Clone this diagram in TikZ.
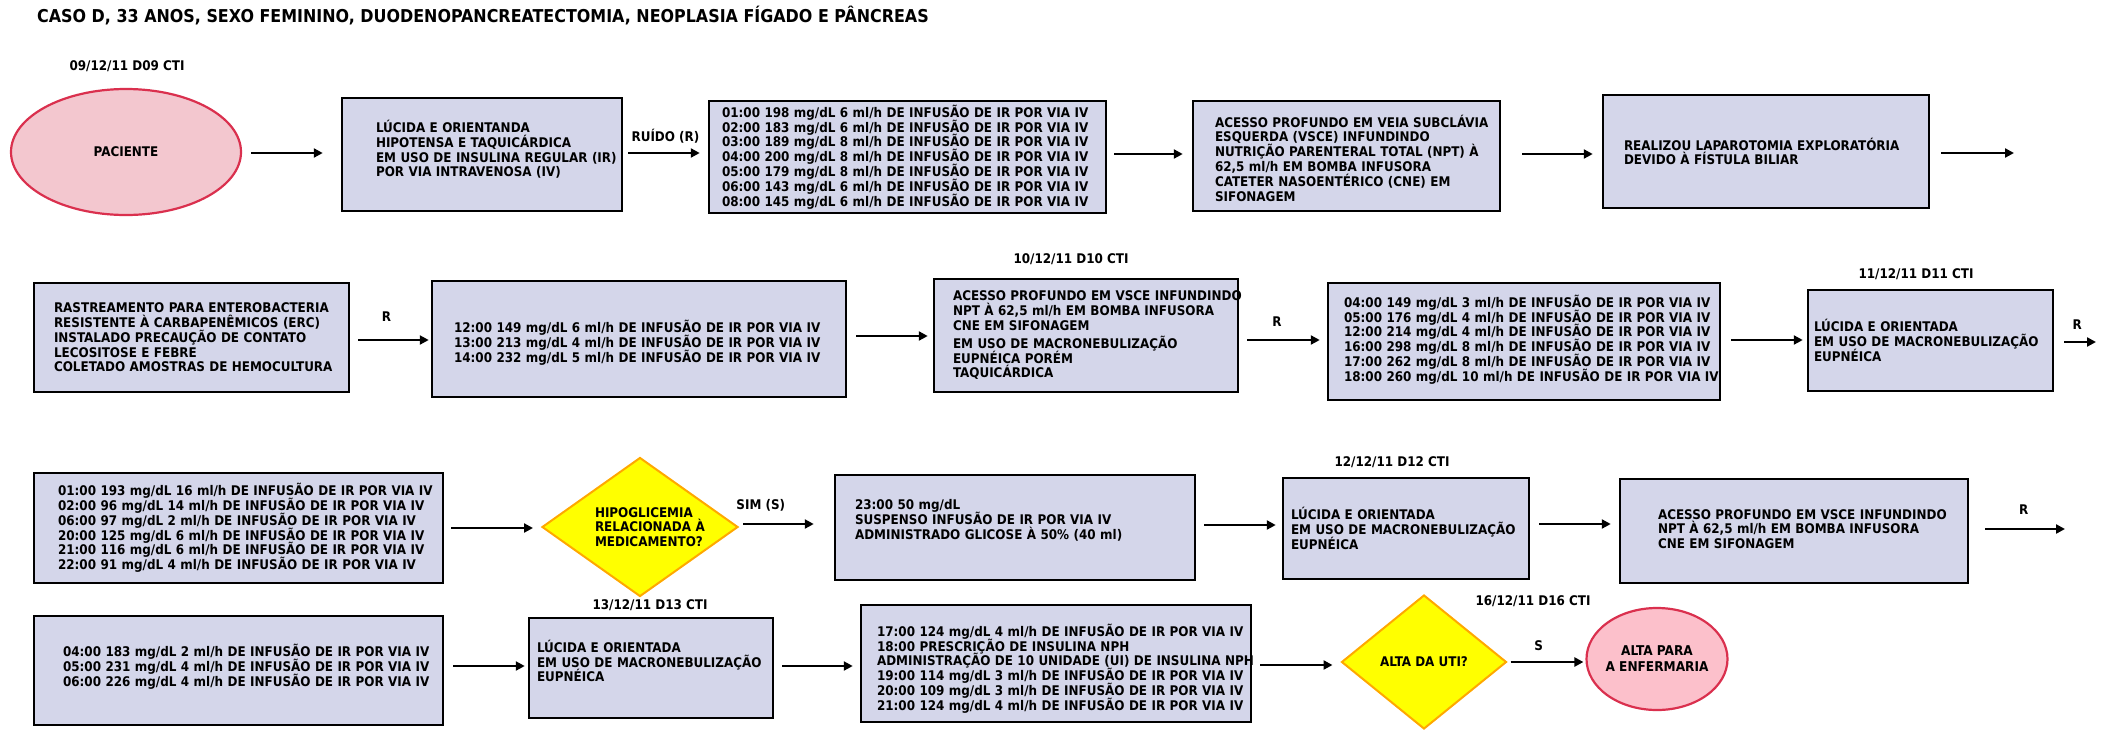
\documentclass[tikz,border=0pt]{standalone}
\usepackage{fontspec}
\newfontfamily\dvc{DejaVu Sans Condensed}
\usetikzlibrary{arrows.meta,shapes.geometric}
\definecolor{boxfill}{RGB}{212,214,234}
\definecolor{startfill}{RGB}{243,199,207}
\definecolor{endfill}{RGB}{252,192,203}
\definecolor{rimred}{RGB}{218,48,78}
\definecolor{decfill}{RGB}{255,255,0}
\definecolor{decrim}{RGB}{255,168,0}
% box text: one row per \\, never wrapped, fixed line pitch;
% the optional kern lifts (positive) or lowers (negative) the block by half its value
\newcommand\boxlines[2][0pt]{\rightskip=-300pt plus 1fil\relax
  \lineskiplimit=-100pt\relax\lineskip=0pt\relax\hyphenpenalty=10000\relax #2\par\kern#1\relax}
\tikzset{
  txt/.style={font=\dvc\bfseries\fontsize{13.3}{14.8}\selectfont},
  box/.style={txt, draw=black, line width=2.5pt, fill=boxfill, align=left, inner ysep=0pt},
  term/.style={txt, ellipse, draw=rimred, line width=2.2pt, align=center, inner sep=0pt},
  decision/.style={txt, diamond, draw=decrim, fill=decfill, line width=2pt, align=left, inner sep=0pt},
  arr/.style={line width=2.5pt, -{Triangle[length=9pt,width=9pt]}},
  lbl/.style={txt, inner sep=0pt},
  datelbl/.style={txt, inner sep=0pt},
}
\begin{document}
\begin{tikzpicture}[x=1pt,y=-1pt]
\useasboundingbox (0,0) rectangle (2105,729);

\node[anchor=west, font=\dvc\bfseries\fontsize{17.7}{20}\selectfont, inner sep=0pt] (title) at (37,16)
  {CASO D, 33 ANOS, SEXO FEMININO, DUODENOPANCREATECTOMIA, NEOPLASIA FÍGADO E PÂNCREAS};

% dates
\node[datelbl] (d09) at (127,66) {09/12/11 D09 CTI};
\node[datelbl] (d10) at (1071,259) {10/12/11 D10 CTI};
\node[datelbl] (d11) at (1916,274) {11/12/11 D11 CTI};
\node[datelbl] (d12) at (1392,462) {12/12/11 D12 CTI};
\node[datelbl] (d13) at (650,605) {13/12/11 D13 CTI};
\node[datelbl] (d16) at (1533,601) {16/12/11 D16 CTI};

% row 1
\node[term, fill=startfill, minimum width=230pt, minimum height=126pt] (p) at (126,152) {PACIENTE};
\node[box, minimum height=113pt, text width=212pt, inner xsep=34pt] (b2) at (482,154.5)
  {\boxlines[10pt]{LÚCIDA E ORIENTANDA\\HIPOTENSA E TAQUICÁRDICA\\EM USO DE INSULINA REGULAR (IR)\\POR VIA INTRAVENOSA (IV)}};
\node[box, minimum height=112pt, text width=371pt, inner xsep=13pt] (b3) at (907.5,157)
  {\boxlines{01:00 198 mg/dL 6 ml/h DE INFUSÃO DE IR POR VIA IV\\
   02:00 183 mg/dL 6 ml/h DE INFUSÃO DE IR POR VIA IV\\
   03:00 189 mg/dL 8 ml/h DE INFUSÃO DE IR POR VIA IV\\
   04:00 200 mg/dL 8 ml/h DE INFUSÃO DE IR POR VIA IV\\
   05:00 179 mg/dL 8 ml/h DE INFUSÃO DE IR POR VIA IV\\
   06:00 143 mg/dL 6 ml/h DE INFUSÃO DE IR POR VIA IV\\
   08:00 145 mg/dL 6 ml/h DE INFUSÃO DE IR POR VIA IV}};
\node[box, minimum height=110pt, text width=263pt, inner xsep=22pt] (b4) at (1346.5,156)
  {\boxlines[-4pt]{ACESSO PROFUNDO EM VEIA SUBCLÁVIA\\ESQUERDA (VSCE) INFUNDINDO\\NUTRIÇÃO PARENTERAL TOTAL (NPT) À\\62,5 ml/h EM BOMBA INFUSORA\\CATETER NASOENTÉRICO (CNE) EM\\SIFONAGEM}};
\node[box, minimum height=113pt, text width=284pt, inner xsep=21pt] (b5) at (1766,151.5)
  {\boxlines{REALIZOU LAPAROTOMIA EXPLORATÓRIA\\DEVIDO À FÍSTULA BILIAR}};
\coordinate (e1) at (2014,153);

% row 2
\node[box, minimum height=109pt, text width=275pt, inner xsep=20pt] (b6) at (191.5,337.5)
  {\boxlines{RASTREAMENTO PARA ENTEROBACTERIA\\RESISTENTE À CARBAPENÊMICOS (ERC)\\INSTALADO PRECAUÇÃO DE CONTATO\\LECOSITOSE E FEBRE\\COLETADO AMOSTRAS DE HEMOCULTURA}};
\node[box, minimum height=116pt, text width=370pt, inner xsep=22pt] (b7) at (639,339)
  {\boxlines[-8pt]{12:00 149 mg/dL 6 ml/h DE INFUSÃO DE IR POR VIA IV\\
   13:00 213 mg/dL 4 ml/h DE INFUSÃO DE IR POR VIA IV\\
   14:00 232 mg/dL 5 ml/h DE INFUSÃO DE IR POR VIA IV}};
\node[box, minimum height=113pt, text width=266pt, inner xsep=19pt] (b8) at (1086,335.5)
  {\boxlines{ACESSO PROFUNDO EM VSCE INFUNDINDO\\NPT À 62,5 ml/h EM BOMBA INFUSORA\\CNE EM SIFONAGEM\\[3pt]EM USO DE MACRONEBULIZAÇÃO\\EUPNÉICA PORÉM\\TAQUICÁRDICA}};
\node[box, minimum height=117pt, text width=360pt, inner xsep=16pt] (b9) at (1524,341.5)
  {\boxlines[4pt]{04:00 149 mg/dL 3 ml/h DE INFUSÃO DE IR POR VIA IV\\
   05:00 176 mg/dL 4 ml/h DE INFUSÃO DE IR POR VIA IV\\
   12:00 214 mg/dL 4 ml/h DE INFUSÃO DE IR POR VIA IV\\
   16:00 298 mg/dL 8 ml/h DE INFUSÃO DE IR POR VIA IV\\
   17:00 262 mg/dL 8 ml/h DE INFUSÃO DE IR POR VIA IV\\
   18:00 260 mg/dL 10 ml/h DE INFUSÃO DE IR POR VIA IV}};
\node[box, minimum height=101pt, text width=233pt, inner xsep=6pt] (b10) at (1930.5,340.5)
  {\boxlines{LÚCIDA E ORIENTADA\\EM USO DE MACRONEBULIZAÇÃO\\EUPNÉICA}};
\coordinate (e2) at (2096,342);

% row 3
\node[box, minimum height=110pt, text width=361pt, inner xsep=24pt] (b11) at (238.5,528)
  {\boxlines{01:00 193 mg/dL 16 ml/h DE INFUSÃO DE IR POR VIA IV\\
   02:00 96 mg/dL 14 ml/h DE INFUSÃO DE IR POR VIA IV\\
   06:00 97 mg/dL 2 ml/h DE INFUSÃO DE IR POR VIA IV\\
   20:00 125 mg/dL 6 ml/h DE INFUSÃO DE IR POR VIA IV\\
   21:00 116 mg/dL 6 ml/h DE INFUSÃO DE IR POR VIA IV\\
   22:00 91 mg/dL 4 ml/h DE INFUSÃO DE IR POR VIA IV}};
\node[decision, text width=90pt, minimum width=196pt, minimum height=139pt] (q1) at (640,527)
  {\boxlines{HIPOGLICEMIA\\RELACIONADA À\\MEDICAMENTO?}};
\node[box, minimum height=105pt, text width=320pt, inner xsep=20pt] (b13) at (1015,527.5)
  {\boxlines[14pt]{23:00 50 mg/dL\\SUSPENSO INFUSÃO DE IR POR VIA IV\\ADMINISTRADO GLICOSE À 50\% (40 ml)}};
\node[box, minimum height=101pt, text width=230pt, inner xsep=8pt] (b14) at (1406,528.5)
  {\boxlines{LÚCIDA E ORIENTADA\\EM USO DE MACRONEBULIZAÇÃO\\EUPNÉICA}};
\node[box, minimum height=104pt, text width=272pt, inner xsep=38pt] (b15) at (1794,531)
  {\boxlines[4pt]{ACESSO PROFUNDO EM VSCE INFUNDINDO\\NPT À 62,5 ml/h EM BOMBA INFUSORA\\CNE EM SIFONAGEM}};
\coordinate (e3) at (2065,529);

% row 4
\node[box, minimum height=109pt, text width=351pt, inner xsep=29pt] (b16) at (238.5,670.5)
  {\boxlines[8pt]{04:00 183 mg/dL 2 ml/h DE INFUSÃO DE IR POR VIA IV\\
   05:00 231 mg/dL 4 ml/h DE INFUSÃO DE IR POR VIA IV\\
   06:00 226 mg/dL 4 ml/h DE INFUSÃO DE IR POR VIA IV}};
\node[box, minimum height=100pt, text width=228pt, inner xsep=8pt] (b17) at (651,668)
  {\boxlines[14pt]{LÚCIDA E ORIENTADA\\EM USO DE MACRONEBULIZAÇÃO\\EUPNÉICA}};
\node[box, minimum height=117pt, text width=358pt, inner xsep=16pt] (b18) at (1056,663.5)
  {\boxlines[-10pt]{17:00 124 mg/dL 4 ml/h DE INFUSÃO DE IR POR VIA IV\\
   18:00 PRESCRIÇÃO DE INSULINA NPH\\
   ADMINISTRAÇÃO DE 10 UNIDADE (UI) DE INSULINA NPH\\
   19:00 114 mg/dL 3 ml/h DE INFUSÃO DE IR POR VIA IV\\
   20:00 109 mg/dL 3 ml/h DE INFUSÃO DE IR POR VIA IV\\
   21:00 124 mg/dL 4 ml/h DE INFUSÃO DE IR POR VIA IV}};
\node[decision, align=center, minimum width=165pt, minimum height=134pt] (q2) at (1424,662) {ALTA DA UTI?};
\node[term, fill=endfill, font=\dvc\bfseries\fontsize{13.5}{16}\selectfont, inner sep=-8pt,
      minimum width=141pt, minimum height=102pt] (fim) at (1657,659) {ALTA PARA\\A ENFERMARIA};

% connectors
\draw[arr, shorten <=9pt, shorten >=18pt] (p.east |- 0,153) -- (b2.west |- 0,153);
\draw[arr, shorten <=5pt, shorten >=8pt] (b2.east |- 0,153) -- (b3.west |- 0,153)
  node[lbl, pos=0.5, yshift=17pt] {RUÍDO (R)};
\draw[arr, shorten <=7pt, shorten >=9pt] (b3.east |- 0,154) -- (b4.west |- 0,154);
\draw[arr, shorten <=21pt, shorten >=9pt] (b4.east |- 0,154) -- (b5.west |- 0,154);
\draw[arr, shorten <=11pt] (b5.east |- e1) -- (e1);

\draw[arr, shorten <=8pt, shorten >=2pt] (b6.east |- 0,340) -- (b7.west |- 0,340)
  node[lbl, pos=0.45, yshift=23pt] {R};
\draw[arr, shorten <=9pt, shorten >=5pt] (b7.east |- 0,336) -- (b8.west |- 0,336);
\draw[arr, shorten <=8pt, shorten >=7pt] (b8.east |- 0,340) -- (b9.west |- 0,340)
  node[lbl, pos=0.43, yshift=18pt] {R};
\draw[arr, shorten <=10pt, shorten >=4pt] (b9.east |- 0,340) -- (b10.west |- 0,340);
\draw[arr, shorten <=10pt] (b10.east |- e2) -- (e2)
  node[lbl, pos=0.55, yshift=17pt] {R};

\draw[arr, shorten <=7pt, shorten >=8pt] (b11.east |- 0,528) -- (q1.west |- 0,528);
\draw[arr, shorten <=4pt, shorten >=20pt] (q1.east |- 0,524) -- (b13.west |- 0,524)
  node[lbl, pos=0.23, yshift=19pt] {SIM (S)};
\draw[arr, shorten <=8pt, shorten >=6pt] (b13.east |- 0,525) -- (b14.west |- 0,525);
\draw[arr, shorten <=9pt, shorten >=8pt] (b14.east |- 0,524) -- (b15.west |- 0,524);
\draw[arr, shorten <=16pt] (b15.east |- e3) -- (e3)
  node[lbl, pos=0.57, yshift=19pt] {R};

\draw[arr, shorten <=9pt, shorten >=3pt] (b16.east |- 0,666) -- (b17.west |- 0,666);
\draw[arr, shorten <=8pt, shorten >=7pt] (b17.east |- 0,666) -- (b18.west |- 0,666);
\draw[arr, shorten <=8pt, shorten >=8pt] (b18.east |- 0,665) -- (q2.west |- 0,665);
\draw[arr, shorten <=3pt, shorten >=2pt] (q2.east |- 0,662) -- (fim.west |- 0,662)
  node[lbl, pos=0.4, yshift=16pt] {S};
\end{tikzpicture}
\end{document}
